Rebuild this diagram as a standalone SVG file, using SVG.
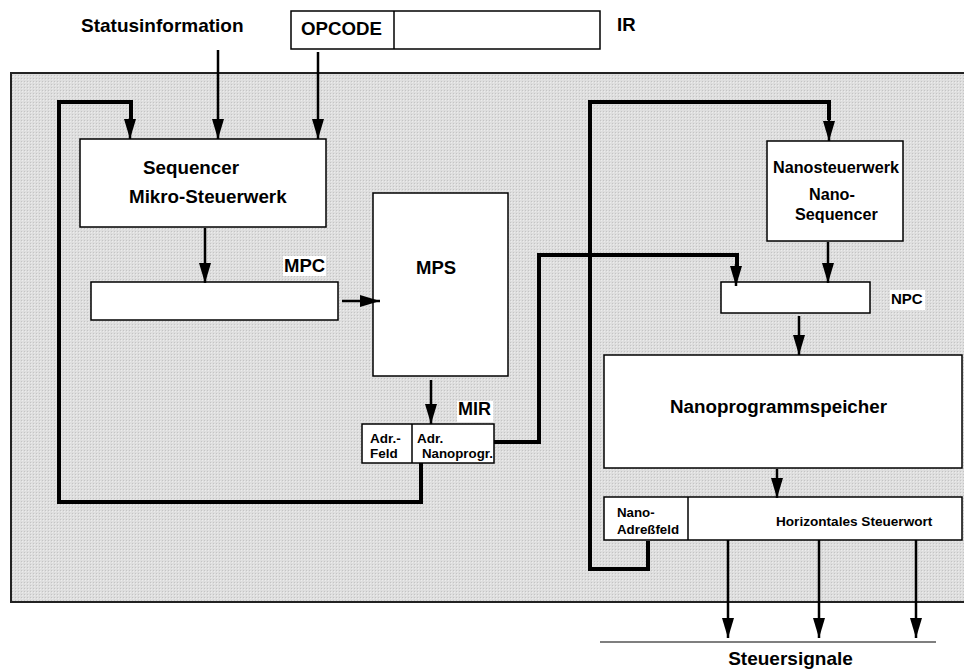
<svg xmlns="http://www.w3.org/2000/svg" width="964" height="671" viewBox="0 0 964 671">
<defs>
<pattern id="dots" width="3" height="3" patternUnits="userSpaceOnUse">
<rect width="3" height="3" fill="#dedede"/>
<rect x="0" y="0" width="1" height="1" fill="#c4c4c4"/>
<rect x="1" y="1" width="1" height="1" fill="#ececec"/>
</pattern>
<marker id="ahb" viewBox="0 0 20 12" refX="20" refY="6" markerWidth="20" markerHeight="12" markerUnits="userSpaceOnUse" orient="auto">
<path d="M0,0 L20,6 L0,12 z" fill="#000"/>
</marker>
</defs>
<style>
.box{fill:#fff;stroke:#000;stroke-width:1.5}
.t{font-family:"Liberation Sans",Arial,sans-serif;font-weight:bold;fill:#000}
.ln{fill:none;stroke:#000;stroke-width:2.5}
.tk{fill:none;stroke:#000;stroke-width:4;stroke-linejoin:miter}
.lbl{fill:#fff}
</style>
<g id="background">
<rect x="11" y="73" width="960" height="529" fill="url(#dots)"/>
<path d="M964,73 L11,73 L11,602 L964,602" fill="none" stroke="#222" stroke-width="2"/>
</g>
<g id="statusinfo"><text class="t" x="81" y="32" font-size="19">Statusinformation</text></g>
<g id="ir">
<rect class="box" x="291" y="11" width="309" height="38"/>
<line x1="394" y1="11" x2="394" y2="49" stroke="#000" stroke-width="1.5"/>
<text class="t" x="301" y="35" font-size="18.7">OPCODE</text>
<text class="t" x="617" y="31" font-size="18.5">IR</text>
</g>
<g id="sequencer">
<rect class="box" x="80" y="139" width="246" height="88"/>
<text class="t" x="143" y="174" font-size="18.8">Sequencer</text>
<text class="t" x="129" y="203" font-size="18.8">Mikro-Steuerwerk</text>
</g>
<g id="mpc">
<rect class="box" x="91" y="282" width="247" height="38"/>
<rect class="lbl" x="283" y="256" width="43" height="20"/>
<text class="t" x="284" y="272" font-size="18.5">MPC</text>
</g>
<g id="mps">
<rect class="box" x="373" y="193" width="135" height="183"/>
<text class="t" x="416" y="274" font-size="18.5">MPS</text>
</g>
<g id="mir">
<rect class="box" x="362" y="424" width="132" height="39"/>
<line x1="412" y1="424" x2="412" y2="463" stroke="#000" stroke-width="1.5"/>
<rect class="lbl" x="457" y="401" width="36" height="21"/>
<text class="t" x="458" y="415" font-size="18">MIR</text>
<text class="t" x="370" y="443" font-size="13.5">Adr.-</text>
<text class="t" x="370" y="458" font-size="13.5">Feld</text>
<text class="t" x="417" y="443" font-size="13.5">Adr.</text>
<text class="t" x="422" y="458" font-size="13.3">Nanoprogr.</text>
</g>
<g id="nanosteuerwerk">
<rect class="box" x="767" y="141" width="136" height="100"/>
<text class="t" x="773" y="173" font-size="16.2">Nanosteuerwerk</text>
<text class="t" x="809" y="200" font-size="16.2">Nano-</text>
<text class="t" x="795" y="220" font-size="16.2">Sequencer</text>
</g>
<g id="npc">
<rect class="box" x="721" y="282" width="149" height="31"/>
<rect class="lbl" x="890" y="290" width="35" height="20"/>
<text class="t" x="891" y="304" font-size="15">NPC</text>
</g>
<g id="nanoprogrammspeicher">
<rect class="box" x="604" y="355" width="358" height="113"/>
<text class="t" x="778.5" y="413" font-size="18.8" text-anchor="middle">Nanoprogrammspeicher</text>
</g>
<g id="steuerwort">
<rect class="box" x="604" y="497" width="358" height="43"/>
<line x1="688" y1="497" x2="688" y2="540" stroke="#000" stroke-width="1.5"/>
<text class="t" x="617" y="517" font-size="13.3">Nano-</text>
<text class="t" x="617" y="534" font-size="13.3">Adreßfeld</text>
<text class="t" x="776" y="526" font-size="13.6">Horizontales Steuerwort</text>
</g>
<g id="steuersignale">
<line x1="600" y1="642" x2="936" y2="642" stroke="#000" stroke-width="1.2"/>
<text class="t" x="790.5" y="665" font-size="19" text-anchor="middle">Steuersignale</text>
</g>
<g id="connectors">
<line class="ln" x1="218" y1="50" x2="218" y2="139" marker-end="url(#ahb)"/>
<line class="ln" x1="318" y1="52" x2="318" y2="139" marker-end="url(#ahb)"/>
<line class="ln" x1="205" y1="228" x2="205" y2="283" marker-end="url(#ahb)"/>
<line class="ln" x1="342" y1="301" x2="380" y2="301" marker-end="url(#ahb)"/>
<line class="ln" x1="431" y1="380" x2="431" y2="424" marker-end="url(#ahb)"/>
<path class="tk" d="M421,463 L421,502 L59,502 L59,102 L131,102 L131,120"/>
<line class="ln" x1="130" y1="118" x2="130" y2="139" marker-end="url(#ahb)"/>
<path class="tk" d="M494,442 L539,442 L539,255 L737,255 L737,266"/>
<line class="ln" x1="736" y1="264" x2="736" y2="286" marker-end="url(#ahb)"/>
<path class="tk" d="M648,541 L648,569 L590,569 L590,102 L829,102 L829,120"/>
<line class="ln" x1="829" y1="118" x2="829" y2="141" marker-end="url(#ahb)"/>
<line class="ln" x1="828" y1="242" x2="828" y2="283" marker-end="url(#ahb)"/>
<line class="ln" x1="799" y1="316" x2="799" y2="355" marker-end="url(#ahb)"/>
<line class="ln" x1="777" y1="469" x2="777" y2="498" marker-end="url(#ahb)"/>
<line class="ln" x1="728" y1="540" x2="728" y2="638" marker-end="url(#ahb)"/>
<line class="ln" x1="819" y1="540" x2="819" y2="638" marker-end="url(#ahb)"/>
<line class="ln" x1="916" y1="540" x2="916" y2="638" marker-end="url(#ahb)"/>
</g>
</svg>
